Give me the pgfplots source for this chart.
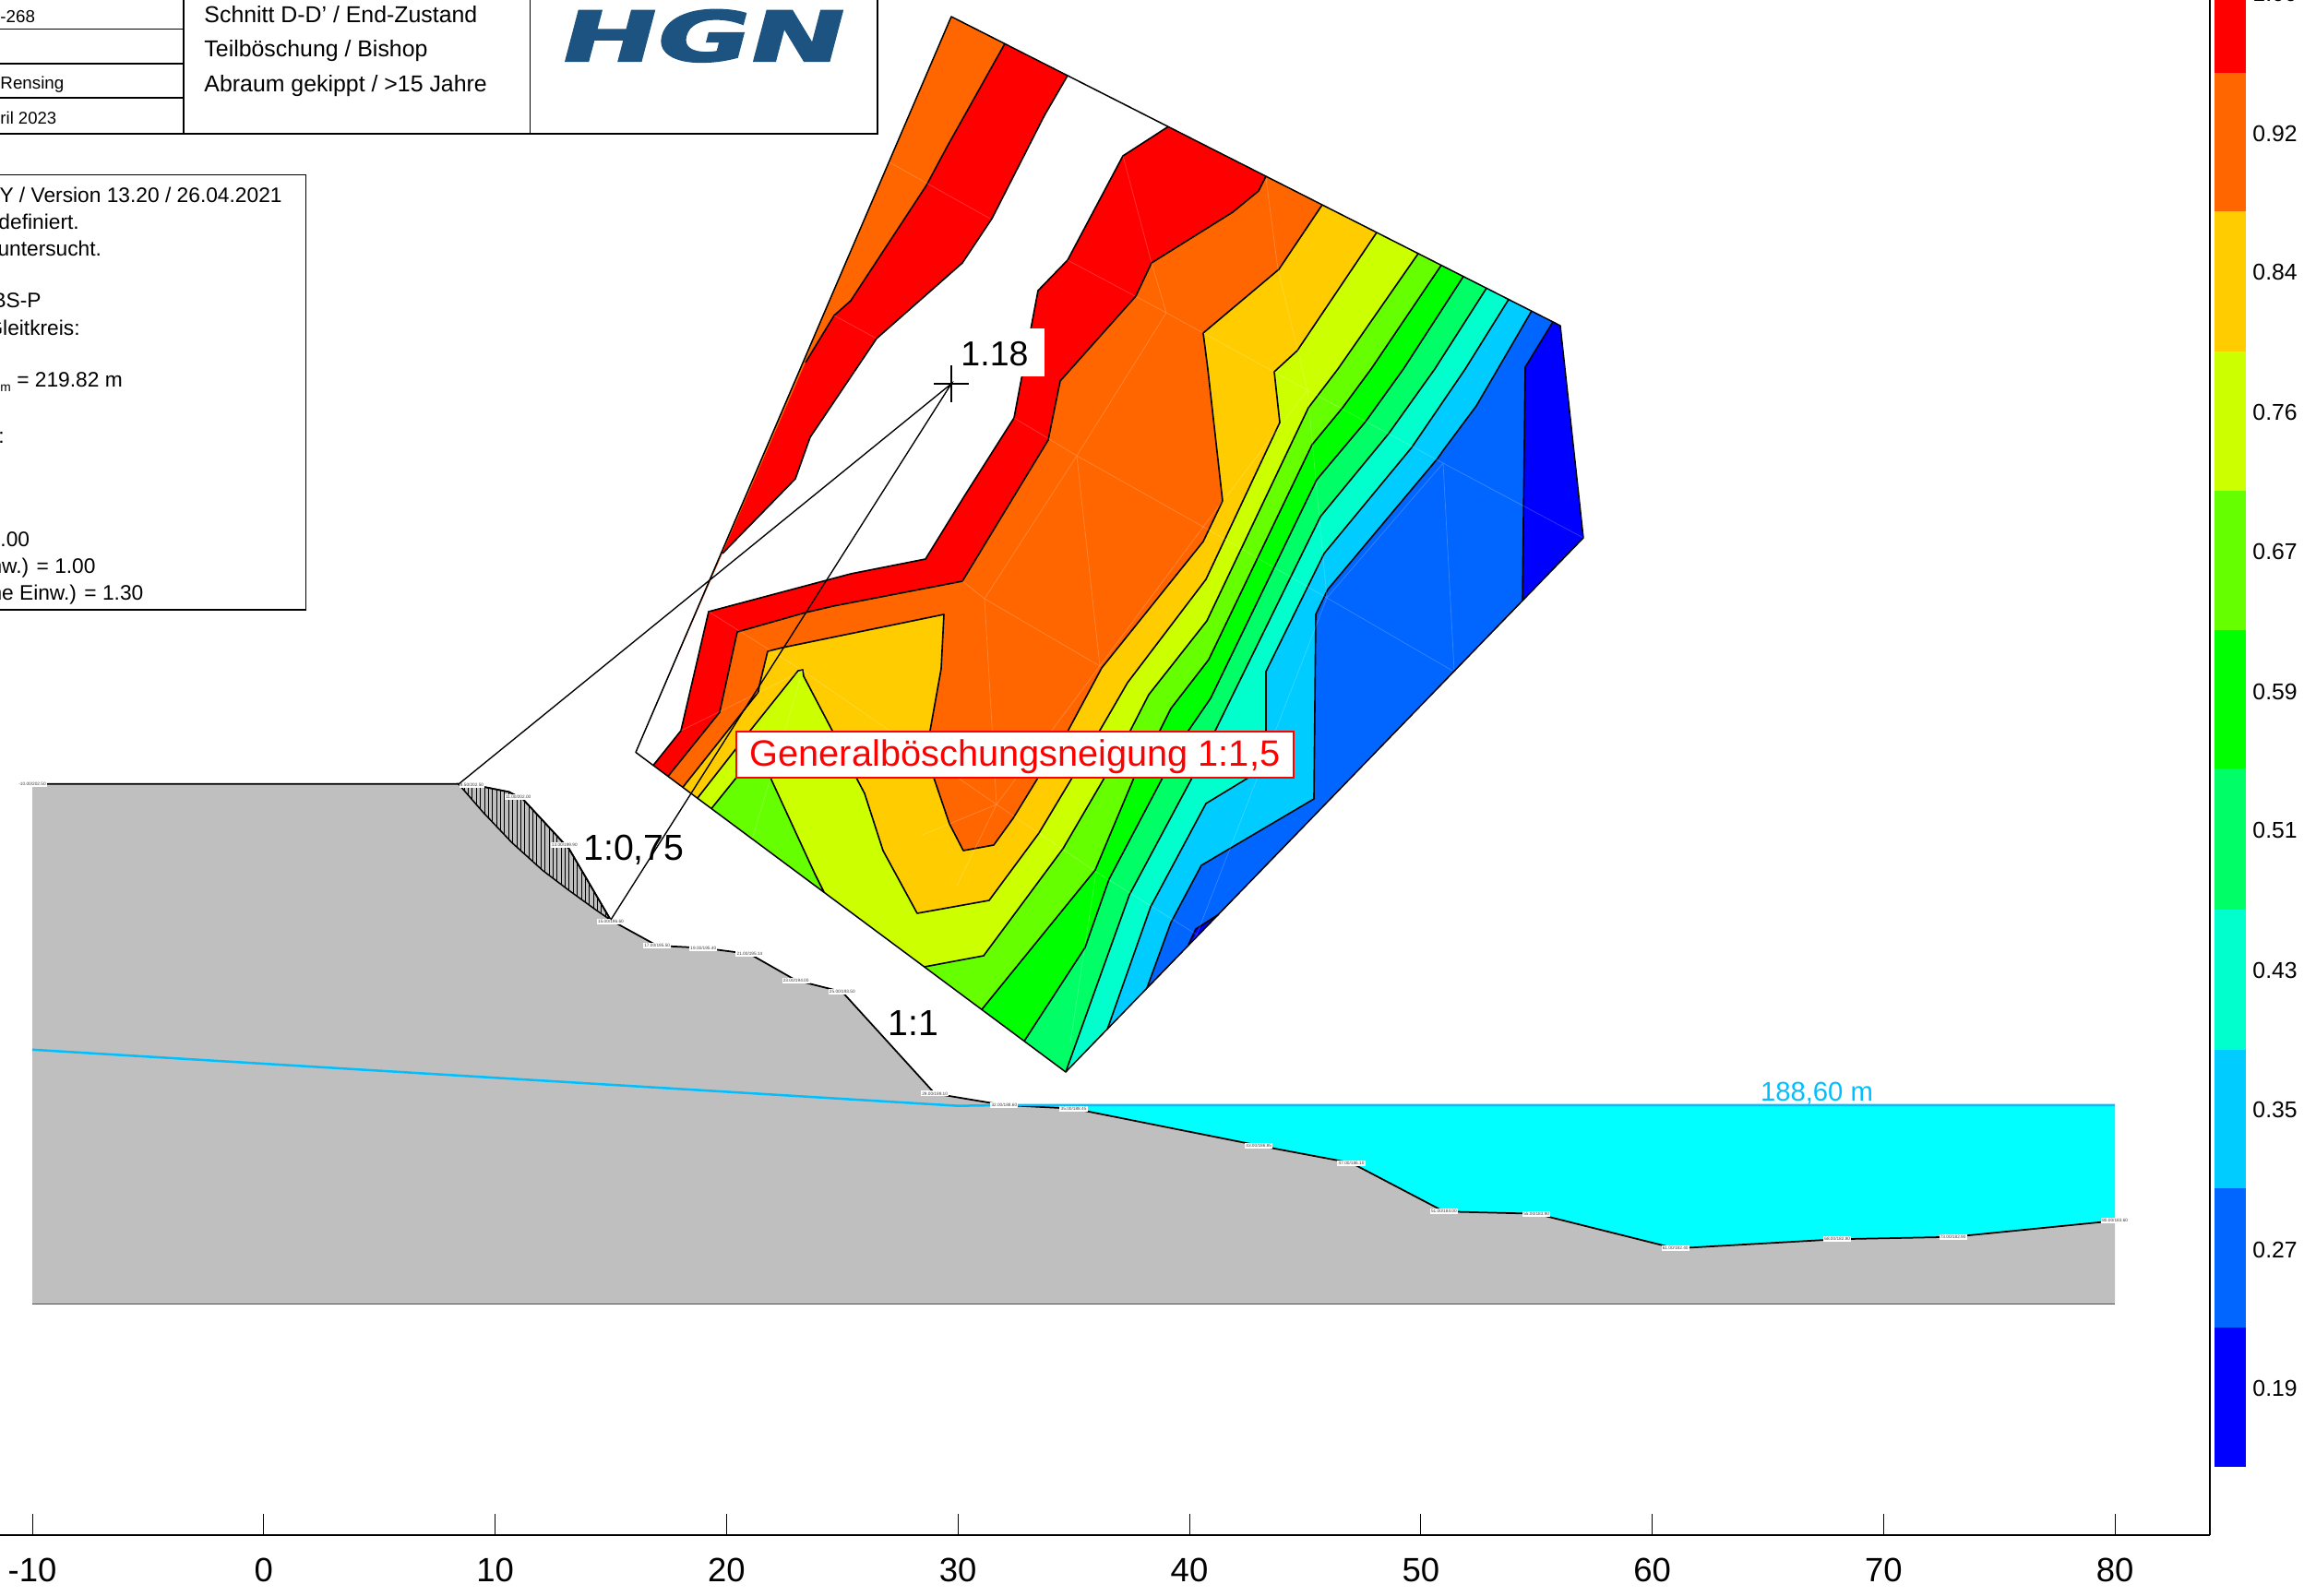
\documentclass[border=0pt]{standalone}
\usepackage{fontspec}
\setmainfont{Liberation Sans}
\newfontfamily\logofont[FakeBold=2.5,FakeSlant=0.16]{DejaVu Sans Bold}
\usepackage{graphicx}
\usepackage{pgfplots}
\usepackage{pgfplotstable}
\pgfplotsset{compat=1.18}
\usetikzlibrary{patterns.meta}

\definecolor{soil}{HTML}{BFBFBF}
\definecolor{lake}{HTML}{00FFFF}
\definecolor{gwblue}{HTML}{00BFFF}
\definecolor{hgnblue}{HTML}{1C5380}
\definecolor{ca}{HTML}{0000FF}
\definecolor{cb}{HTML}{0066FF}
\definecolor{cc}{HTML}{00CCFF}
\definecolor{cd}{HTML}{00FFCC}
\definecolor{ce}{HTML}{00FF66}
\definecolor{cf}{HTML}{00FF00}
\definecolor{cg}{HTML}{66FF00}
\definecolor{ch}{HTML}{CCFF00}
\definecolor{ci}{HTML}{FFCC00}
\definecolor{cj}{HTML}{FF6600}
\definecolor{ck}{HTML}{FF0000}

\newcommand{\fs}[1]{\fontsize{#1}{#1}\selectfont}
\tikzset{every node/.append style={inner sep=0pt}}

% fill of one level: #2 is the contour line, #3 closes it along the outline
\newcommand{\band}[3]{%
  \addplot[fill=#1, draw=none] coordinates {#2 #3} --cycle;
  \addplot[black, line width=.65pt, line join=round] coordinates {#2};}

% section surface: x / elevation in m
\pgfplotstableread{
x y
-10 202.50
8.41 202.50
9.6 202.35
10.6 202.15
11.2 201.84
13.2 199.68
15 196.60
17 195.50
19 195.40
21 195.14
23 194.00
25 193.50
29 189.10
32 188.60
35 188.45
43 186.85
47 186.10
51 184.00
55 183.90
61 182.40
68 182.80
73 182.90
80 183.60
}\surface

% tiny point labels of the program
\pgfplotstableread{
x y lab
-10 202.50 -10.00/202.50
9.0 202.45 8.50/202.50
11.0 201.94 11.00/202.00
13.0 199.85 13.00/199.90
15 196.55 15.00/196.60
17 195.50 17.00/195.50
19 195.40 19.00/195.40
21 195.14 21.00/195.14
23 194.00 23.00/194.00
25 193.50 25.00/193.50
29 189.10 29.00/189.10
32 188.60 32.00/188.60
35 188.45 35.00/188.45
43 186.85 43.00/186.85
47 186.10 47.00/186.10
51 184.00 51.00/184.00
55 183.90 55.00/183.90
61 182.40 61.00/182.40
68 182.80 68.00/182.80
73 182.90 73.00/182.90
80 183.60 80.00/183.60
}\pointlabels

\begin{document}
\begin{tikzpicture}
\useasboundingbox (0,0) rectangle (1004pt,692pt);
\clip (0,0) rectangle (1004pt,692pt);

% the section, in metres
\begin{axis}[
  at={(0pt,26.4pt)}, anchor=south west,
  scale only axis, width=958pt, height=665.6pt,
  xmin=-11.396, xmax=84.10, ymin=170, ymax=236.41,
  axis x line=bottom, axis y line=right,
  axis line style={-, line width=1pt},
  xtick={-10,0,...,80}, ytick=\empty,
  tick align=inside, major tick length=9pt,
  tick style={black, line width=.4pt},
  /pgf/number format/assume math mode=true,
  xticklabel style={font=\fs{14.6}, inner sep=.333em, yshift=-6.6pt},
  clip=false,
]
\addplot[fill=lake, draw=none] coordinates {
  (32,188.6)(80,188.6)(80,183.6)(73,182.9)(68,182.8)(61,182.4)(55,183.9)
  (51,184)(47,186.1)(43,186.85)(35,188.45)} --cycle;
\addplot[fill=soil, draw=none] coordinates {
  (-10,202.5)(8.41,202.5)(9.6,202.35)(10.6,202.15)(11.2,201.84)(13.2,199.68)(15,196.6)(17,195.5)(19,195.4)(21,195.14)
  (23,194)(25,193.5)(29,189.1)(32,188.6)(35,188.45)(43,186.85)(47,186.1)(51,184)
  (55,183.9)(61,182.4)(68,182.8)(73,182.9)(80,183.6)(80,180)(-10,180)} --cycle;
% hatched slip body
\addplot[pattern={Lines[angle=90,distance=1.75pt,line width=.4pt]}, draw=black, line width=.6pt] coordinates {
  (8.41,202.5)(9.6,202.35)(10.6,202.15)(11.2,201.84)(13.2,199.68)(15,196.6)
  (14.39,197.02)(13.19,197.89)(12.06,198.75)(10.73,199.95)(9.47,201.28)} --cycle;
\addplot[red, line width=.6pt] coordinates {(-10,180)(80,180)};
\addplot[black, line width=.7pt] table[x=x,y=y] {\surface};
\addplot[gwblue, line width=1pt] coordinates {(-10,191)(30,188.57)(32,188.6)(80,188.6)};
\addplot[draw=none, mark=none,
  nodes near coords={\pgfplotspointmeta}, nodes near coords align={center},
  point meta=explicit symbolic,
  every node near coord/.style={anchor=center, fill=white, inner sep=.5pt, text=black!75, font=\fs{1.9}}]
  table[x=x,y=y,meta=lab] {\pointlabels};
\end{axis}

% contour plot, boxes and texts, in pixels of the sheet
\begin{axis}[
  at={(0pt,0pt)}, anchor=south west,
  scale only axis, width=1004pt, height=692pt,
  xmin=0, xmax=2510, ymin=0, ymax=1730, y dir=reverse,
  hide axis, clip=false,
]
\addplot[fill=ca, draw=none] coordinates {(1031,18)(1691,353)(1716,583)(1155,1162)(689,815.5)} --cycle;
\band{cb}{(1683,349)(1653,398)(1650,651)}{(1155,1162)(689,815.5)(1031,18)}
\band{ca}{(1288,1024)(1296,1007)(1321,991)}{}
\band{cc}{(1660,337)(1600,440)(1565,487)(1558,497)(1439,639)(1426,666)(1424,866)(1302,938)(1269,1000)(1243,1071)}{(1155,1162)(689,815.5)(1031,18)}
\band{cd}{(1635,324.6)(1588,400)(1530,485)(1435,600)(1372,728)(1372,795)(1353,843)(1307,871)(1247,983)(1200,1116)}{(1155,1162)(689,815.5)(1031,18)}
\band{ce}{(1611,312.4)(1555,400)(1505,470)(1431,560)(1318,790)(1292,843)(1224,970)(1155,1162)}{(689,815.5)(1031,18)}
\band{cf}{(1586,299.7)(1521,400)(1480,457)(1427,520)(1312,757)(1288,792)(1260,843)(1202,953)(1176,1027)(1110,1128.6)}{(689,815.5)(1031,18)}
\band{cg}{(1562,287.5)(1486,400)(1455,442)(1422,482)(1310,715)(1269,768)(1257,792)(1229,843)(1187,943)(1064,1094.3)}{(689,815.5)(1031,18)}
% the lower tongue of 66ff00 leaves the edge between (893,967) and (771,876.5)
\addplot[fill=ch, draw=none] coordinates {(1537,274.9)(1450,400)(1418,442)(1308,673)(1245,753)(1225,792)(1197,843)(1152,920)(1066,1036)(1002,1048)(893,967)(883,947)(835,843)(820,815)(798,843)(771,876.5)(689,815.5)(1031,18)} --cycle;
\addplot[black, line width=.65pt] coordinates {(1537,274.9)(1450,400)(1418,442)(1308,673)(1245,753)(1225,792)(1197,843)(1152,920)(1066,1036)(1002,1048)};
\addplot[black, line width=.65pt] coordinates {(893,967)(883,947)(835,843)(820,815)(798,843)(771,876.5)};
\band{ci}{(1492,252)(1406,380)(1381,403)(1387,458)(1307,628)(1222,740)(1200,778)(1162,843)(1126,903)(1072,976)(994,990)(957,922)(937,860)(928,843)(902,792)(871,733)(870,726)(865,727)(813,792)(756,865)}{(689,815.5)(1031,18)}
\band{cj}{(1433,222)(1386,292)(1304,361)(1309,400)(1325,543)(1304,587)(1194,724)(1157,793)(1125,843)(1098,887)(1077,916)(1044,922)(1029,893)(1012,843)(1008,792)(1020,725)(1023,666)(848,702)(832,706)(823,743)(822,750)(740,853.4)}{(689,815.5)(1031,18)}
\band{ck}{(1372,191)(1364,207)(1336,230)(1248,285)(1231,321)(1149,413)(1136,477)(1043,630)(903,657)(873,664)(799,685)(780,772)(724,841.5)}{(689,815.5)(873,393)(904,342)(922,326)(1004,201)(1027,158)(1089,47.4)}
\addplot[black, line width=.65pt] coordinates {(873,393)(904,342)(922,326)(1004,201)(1027,158)(1089,47.4)};
\band{white}{(1157,82)(1132,125)(1075,237)(1043,285)(950,367)(878,474)(862,519)(783,600)}{(689,815.5)(708,829.6)(738,792)(768,663)(922,622)(1003,606)(1045,538)(1099,453)(1125,315)(1157,282)(1217,169)(1266,137.3)}
\addplot[black, line width=.65pt] coordinates {(708,829.6)(738,792)(768,663)(922,622)(1003,606)(1045,538)(1099,453)(1125,315)(1157,282)(1217,169)(1266,137.3)};

% faint triangulation of the grid
\addplot[white, opacity=.2, line width=.3pt, unbounded coords=jump] table {
964 176
1073 237
nan nan
1157 282
1264 339
1417 423
1564 502
1716 583
nan nan
904 342
950 367
nan nan
1099 453
1167 494
1304 571
1438 648
1574 727
nan nan
768 663
870 727
1080 872
1188 945
1297 1013
nan nan
738 792
870 727
nan nan
1043 630
1067 649
1192 722
nan nan
1264 339
1167 494
1067 649
1080 872
1037 960
nan nan
1264 339
1248 285
1217 169
nan nan
1385 292
1417 423
1438 648
nan nan
1372 193
1385 292
nan nan
1167 494
1192 722
nan nan
1304 571
1192 722
1080 872
nan nan
1417 423
1304 571
nan nan
1564 502
1438 648
1297 1013
nan nan
1564 502
1576 727
nan nan
1650 548
1564 502
nan nan
1188 945
1160 1130
nan nan
1297 1013
1285 1030
nan nan
870 727
800 960
nan nan
1080 872
1000 905
};

% outline of the grid
\addplot[black, line width=.6pt, line join=round] coordinates {(1031,18)(1691,353)(1716,583)(1155,1162)(689,815.5)} --cycle;

% slip circle radii and centre
\addplot[black, line width=.55pt] coordinates {(497,850)(1031,416)(662,997)};
\addplot[black, line width=.5pt] coordinates {(1012,416)(1050,416)};
\addplot[black, line width=.5pt] coordinates {(1031,396)(1031,436)};
\addplot[fill=white, draw=none] coordinates {(1038,356)(1132,356)(1132,408)(1038,408)} --cycle;
\node[anchor=base west, font=\fs{15}] at (1041,397) {1.18};

\addplot[fill=white, draw=red, line width=.8pt] coordinates {(798,793)(1402,793)(1402,843)(798,843)} --cycle;
\node[anchor=center, text=red, font=\fs{15.9}] at (1100,820) {Generalböschungsneigung 1:1,5};
\node[anchor=center, font=\fs{15.7}] at (687,921) {1:0,75};
\node[anchor=center, font=\fs{15.7}] at (990,1109) {1:1};
\node[anchor=center, text=gwblue, font=\fs{11.7}] at (1969,1185) {188,60 m};

% title block
\addplot[black, line width=.7pt] coordinates {(0,31.6)(199,31.6)};
\addplot[black, line width=.7pt] coordinates {(0,69)(199,69)};
\addplot[black, line width=.7pt] coordinates {(0,106)(199,106)};
\addplot[black, line width=.8pt] coordinates {(0,145)(951,145)(951,0)};
\addplot[black, line width=.7pt] coordinates {(199,0)(199,145)};
\addplot[black, line width=.7pt] coordinates {(574.6,0)(574.6,145)};
\node[anchor=base west, font=\fs{7.5}] at (0,25) {-268};
\node[anchor=base west, font=\fs{7.5}] at (0,97) {Rensing};
\node[anchor=base west, font=\fs{7.4}] at (0,135) {ril 2023};
\node[anchor=base west, font=\fs{9.95}] at (221,25) {Schnitt D-D' / End-Zustand};
\node[anchor=base west, font=\fs{9.95}] at (221,62) {Teilböschung / Bishop};
\node[anchor=base west, font=\fs{9.95}] at (221,100) {Abraum gekippt / >15 Jahre};
\node[anchor=north west, text=hgnblue] at (602,10) {\scalebox{1.64}[1]{\logofont\fs{30}HGN}};

% info box
\addplot[black, line width=.7pt] coordinates {(0,189.5)(331.6,189.5)(331.6,661)(0,661)};
\node[anchor=base west, font=\fs{9.1}] at (-1,220) {Y / Version 13.20 / 26.04.2021};
\node[anchor=base west, font=\fs{9.1}] at (-2,249) {definiert.};
\node[anchor=base west, font=\fs{9.1}] at (-3,278) {untersucht.};
\node[anchor=base west, font=\fs{9.1}] at (-9,334) {BS-P};
\node[anchor=base west, font=\fs{9.1}] at (-15,364) {Gleitkreis:};
\node[anchor=base west, font=\fs{9.1}] at (0,420) {\raisebox{-2pt}{\fs{5.5}m} = 219.82 m};
\node[anchor=base west, font=\fs{9.1}] at (-2,481) {:};
\node[anchor=base west, font=\fs{9.1}] at (0,593) {.00};
\node[anchor=base west, font=\fs{9.1}] at (-11,622) {nw.) = 1.00};
\node[anchor=base west, font=\fs{9.1}] at (-11,651) {ne Einw.) = 1.30};

% colour scale
\addplot[fill=ck, draw=none] coordinates {(2400,-72)(2434,-72)(2434,79.5)(2400,79.5)} --cycle;
\addplot[fill=cj, draw=none] coordinates {(2400,79.5)(2434,79.5)(2434,229.5)(2400,229.5)} --cycle;
\addplot[fill=ci, draw=none] coordinates {(2400,229.5)(2434,229.5)(2434,381)(2400,381)} --cycle;
\addplot[fill=ch, draw=none] coordinates {(2400,381)(2434,381)(2434,532)(2400,532)} --cycle;
\addplot[fill=cg, draw=none] coordinates {(2400,532)(2434,532)(2434,683)(2400,683)} --cycle;
\addplot[fill=cf, draw=none] coordinates {(2400,683)(2434,683)(2434,833)(2400,833)} --cycle;
\addplot[fill=ce, draw=none] coordinates {(2400,833)(2434,833)(2434,986)(2400,986)} --cycle;
\addplot[fill=cd, draw=none] coordinates {(2400,986)(2434,986)(2434,1138)(2400,1138)} --cycle;
\addplot[fill=cc, draw=none] coordinates {(2400,1138)(2434,1138)(2434,1288)(2400,1288)} --cycle;
\addplot[fill=cb, draw=none] coordinates {(2400,1288)(2434,1288)(2434,1439)(2400,1439)} --cycle;
\addplot[fill=ca, draw=none] coordinates {(2400,1439)(2434,1439)(2434,1590)(2400,1590)} --cycle;
\node[anchor=west, font=\fs{9.9}] at (2441,-7) {1.00};
\node[anchor=west, font=\fs{9.9}] at (2441,145) {0.92};
\node[anchor=west, font=\fs{9.9}] at (2441,295) {0.84};
\node[anchor=west, font=\fs{9.9}] at (2441,447) {0.76};
\node[anchor=west, font=\fs{9.9}] at (2441,598) {0.67};
\node[anchor=west, font=\fs{9.9}] at (2441,750) {0.59};
\node[anchor=west, font=\fs{9.9}] at (2441,900) {0.51};
\node[anchor=west, font=\fs{9.9}] at (2441,1052) {0.43};
\node[anchor=west, font=\fs{9.9}] at (2441,1203) {0.35};
\node[anchor=west, font=\fs{9.9}] at (2441,1355) {0.27};
\node[anchor=west, font=\fs{9.9}] at (2441,1505) {0.19};
\end{axis}
\end{tikzpicture}
\end{document}
